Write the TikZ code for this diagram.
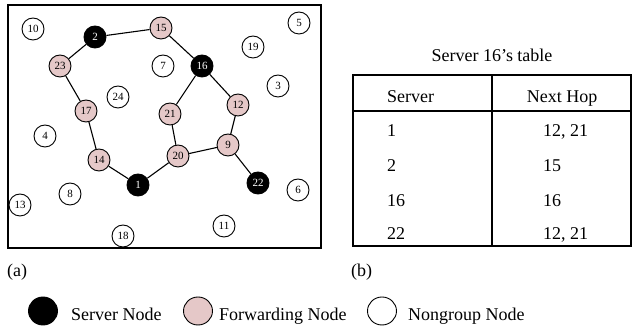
\documentclass[tikz,border=0pt]{standalone}
\usepackage{fontspec}
\setmainfont{Liberation Serif}
\usetikzlibrary{shapes.geometric}
\begin{document}
\begin{tikzpicture}[x=1pt,y=-1pt,
  nd/.style={circle,draw=black,line width=0.9pt,minimum size=22pt,inner sep=0pt,font=\fontsize{11}{11}\selectfont},
  srv/.style={nd,fill=black,text=white},
  fwd/.style={nd,fill=fwdpink},
  ngr/.style={nd,fill=white},
  edge/.style={line width=1.1pt},
  txt/.style={font=\fontsize{18}{18}\selectfont,inner sep=0pt,anchor=base west},
  leg/.style={ellipse,draw=black,line width=0.9pt,minimum width=29pt,minimum height=28pt,inner sep=0pt}]
\definecolor{fwdpink}{RGB}{229,200,200}
\useasboundingbox (0,0) rectangle (632,328);
% frame (a)
\draw[line width=1.2pt] (8,5) rectangle (321,248);
% nodes
\node[ngr] (n10) at (33,29) {10};
\node[srv] (n2) at (95,37) {2};
\node[fwd] (n15) at (161,28) {15};
\node[ngr] (n5) at (299,23) {5};
\node[ngr] (n19) at (253,47) {19};
\node[fwd] (n23) at (60,66) {23};
\node[ngr] (n7) at (163,66) {7};
\node[srv] (n16) at (202,66) {16};
\node[ngr] (n3) at (278,86) {3};
\node[ngr] (n24) at (118,97) {24};
\node[fwd] (n17) at (86,111) {17};
\node[fwd] (n21) at (170,114) {21};
\node[fwd] (n12) at (238,105) {12};
\node[ngr] (n4) at (45,136) {4};
\node[fwd] (n9) at (228,145) {9};
\node[fwd] (n20) at (178,156) {20};
\node[fwd] (n14) at (99,160) {14};
\node[srv] (n1) at (138,185) {1};
\node[srv] (n22) at (258,183) {22};
\node[ngr] (n6) at (298,190) {6};
\node[ngr] (n8) at (70,194) {8};
\node[ngr] (n13) at (20,205) {13};
\node[ngr] (n11) at (224,226) {11};
\node[ngr] (n18) at (123,236) {18};
% edges
\foreach \a/\b in {n2/n15,n2/n23,n23/n17,n17/n14,n14/n1,n1/n20,n20/n21,n21/n16,n15/n16,n16/n12,n12/n9,n9/n20,n9/n22}
  \draw[edge] (\a) -- (\b);
% table (b)
\node[txt,anchor=base] (title) at (492,62) {Server 16’s table};
\draw[line width=1.2pt] (353,75) rectangle (631,246);
\draw[line width=1.2pt] (353,111) -- (631,111);
\draw[line width=1.2pt] (492,75) -- (492,246);
\node[txt] (hs) at (387,103) {Server};
\node[txt,anchor=base] (hn) at (562,103) {Next Hop};
\node[txt] (r1a) at (387,137) {1};
\node[txt] (r1b) at (543,137) {12, 21};
\node[txt] (r2a) at (387,172) {2};
\node[txt] (r2b) at (543,172) {15};
\node[txt] (r3a) at (387,207) {16};
\node[txt] (r3b) at (543,207) {16};
\node[txt] (r4a) at (387,240) {22};
\node[txt] (r4b) at (543,240) {12, 21};
% captions
\node[txt] (ca) at (7,277) {(a)};
\node[txt] (cb) at (351,277) {(b)};
% legend
\node[leg,fill=black] (l1) at (43,311) {};
\node[txt] (t1) at (71,321) {Server Node};
\node[leg,fill=fwdpink] (l2) at (198,311) {};
\node[txt] (t2) at (219,321) {Forwarding Node};
\node[leg,fill=white] (l3) at (382,311) {};
\node[txt] (t3) at (408,321) {Nongroup Node};
\end{tikzpicture}
\end{document}
